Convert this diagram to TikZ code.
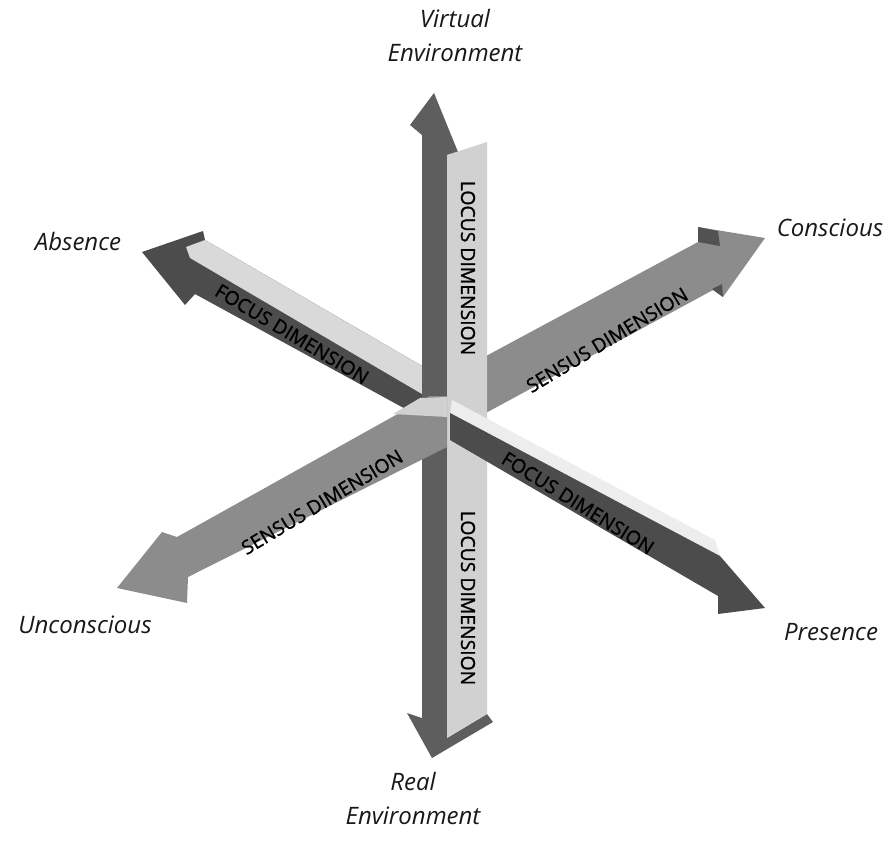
\documentclass[tikz,border=0pt]{standalone}
\usepackage{fontspec}
\setmainfont{Open Sans}
\newfontfamily\barfont{Open Sans}[FakeBold=1.2]
\begin{document}
\begin{tikzpicture}[x=0.75pt,y=-0.75pt,
  lbl/.style={font=\fontsize{18}{25.5}\selectfont\itshape, align=center, text=black!90, inner sep=0pt},
  bartxt/.style={font=\barfont\fontsize{14.5}{15}\selectfont, inner sep=0pt, text=black},
  fdark/.style={fill=black!70},
  flight/.style={fill=black!15},
  sgrey/.style={fill=black!45},
  vdark/.style={fill=black!63},
  vlight/.style={fill=black!18}]
\path[use as bounding box, fill=white] (0,0) rectangle (889,840);

% ---- Focus dimension, upper-left part (behind) ----
\path[fdark] (142,252) -- (203,231) -- (205,240) -- (422,366) -- (422,418) -- (195,294) -- (185,305) -- cycle;
\path[flight] (186,247) -- (205,240) -- (422,366) -- (422,394) -- (190,258) -- cycle;
\node[bartxt, rotate=-31] (ftxt1) at (292,334) {FOCUS DIMENSION};

% ---- Sensus dimension, upper-right part (behind) ----
\path[sgrey] (447,377) -- (698,242) -- (698,227) -- (765,238) -- (723,297) -- (713,290) -- (447,434) -- cycle;
\path[fill=black!68] (698,227) -- (718,231) -- (720,246) -- (698,242) -- cycle;
\path[fill=black!68] (712,289) -- (722,284) -- (723,297) -- cycle;
\node[bartxt, rotate=31] (stxt1) at (607,340) {SENSUS DIMENSION};

% ---- Vertical (locus) bar ----
\path[vdark] (434,93) -- (458,152) -- (447,155) -- (447,738) -- (487,714) -- (493,722) -- (432,758) -- (407,713) -- (422,718) -- (422,135) -- (410,125) -- cycle;
\path[vlight] (447,155) -- (487,142) -- (487,714) -- (447,738) -- cycle;
\node[bartxt, rotate=-90] (ltxt1) at (468,268) {LOCUS DIMENSION};
\node[bartxt, rotate=-90] (ltxt2) at (468,598) {LOCUS DIMENSION};

% ---- Focus dimension, lower-right part (front) ----
\path[fill=black!7] (452,400) -- (715,540) -- (720,556) -- (450,413) -- cycle;
\path[fdark] (450,413) -- (720,556) -- (765,608) -- (718,614) -- (718,596) -- (450,440) -- cycle;
\node[bartxt, rotate=-32] (ftxt2) at (578,503) {FOCUS DIMENSION};

% ---- Sensus dimension, lower-left part (front) ----
\path[sgrey] (117,588) -- (162,532) -- (177,537) -- (430,396) -- (447,396) -- (447,447) -- (188,577) -- (187,603) -- cycle;
\path[vlight] (393,414) -- (420,398) -- (447,397) -- (447,417) -- cycle;
\node[bartxt, rotate=31] (stxt2) at (322,502) {SENSUS DIMENSION};

% ---- Labels ----
\node[lbl] (virt) at (455,35) {Virtual\\Environment};
\node[lbl] (abs) at (78,241) {Absence};
\node[lbl] (cons) at (830,228) {Conscious};
\node[lbl] (uncons) at (85,625) {Unconscious};
\node[lbl] (pres) at (831,632) {Presence};
\node[lbl] (real) at (413,798) {Real\\Environment};
\end{tikzpicture}
\end{document}
